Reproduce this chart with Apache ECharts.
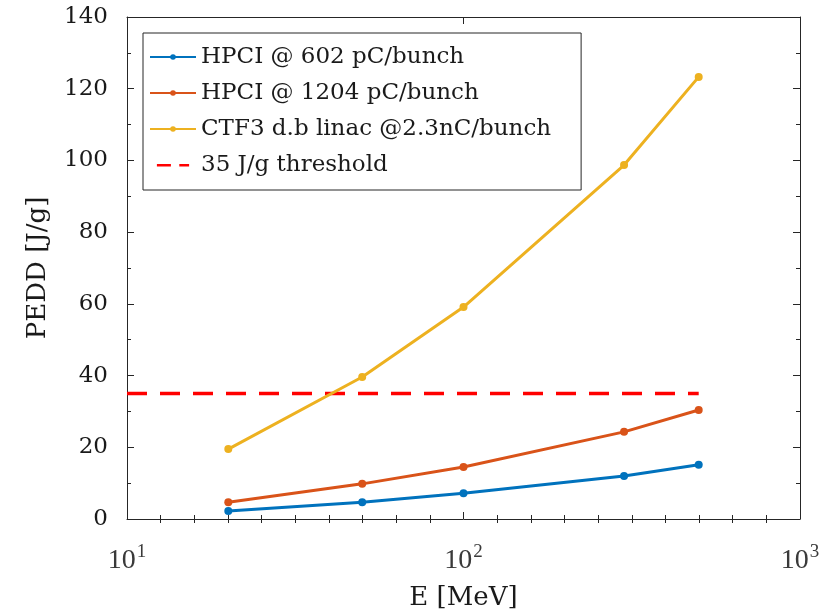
<!DOCTYPE html>
<html><head><meta charset="utf-8">
<script src="https://cdn.jsdelivr.net/npm/echarts@6/dist/echarts.min.js"></script>
<style>html,body{margin:0;padding:0;background:#fff}#c{width:826px;height:615px}</style>
</head><body><div id="c"></div>
<script>
var energies = [20, 50, 100, 300, 500];
var hpci602 = [2.2, 4.7, 7.2, 12.0, 15.1];
var hpci1204 = [4.7, 9.8, 14.5, 24.3, 30.4];
var ctf3 = [19.5, 39.6, 59.1, 98.7, 123.3];
var thresholdX = [10, 500];
var thresholdY = [35, 35];
var seriesNames = ['HPCI @ 602 pC/bunch', 'HPCI @ 1204 pC/bunch', 'CTF3 d.b linac @2.3nC/bunch', '35 J/g threshold'];
var yTicks = [0, 20, 40, 60, 80, 100, 120, 140];

function pairs(xs, ys){ return xs.map(function(x,i){ return [x, ys[i]]; }); }
var serif = 'DejaVu Serif';
var axisColor = '#262626';

function tick(){ return {show:true, inside:true, length:7, lineStyle:{color:axisColor, width:1}}; }
function minor(n){ return {show:true, splitNumber:n, length:4, lineStyle:{color:axisColor, width:1}}; }
function axLine(){ return {show:true, onZero:false, lineStyle:{color:axisColor, width:1}}; }
// exponent-space axis (1..3 = 10^1..10^3) used only for the evenly spaced minor ticks
function expAxis(pos){
  return {type:'value', min:1, max:3, interval:1, position:pos,
    axisLine:{show:false}, axisTick:{show:false, inside:true},
    minorTick:minor(10), splitLine:{show:false}, axisLabel:{show:false}};
}

var chart = echarts.init(document.getElementById('c'));
var lineSeries = function(name, data, color){
  return {name:name, type:'line', data:data, symbol:'circle', symbolSize:8,
    lineStyle:{color:color, width:3}, itemStyle:{color:color}, z:3};
};
chart.setOption({
  animation:false,
  grid:{left:127, right:26, top:17, bottom:96, containLabel:false, outerBoundsMode:'none'},
  legend:{
    orient:'vertical', left:143, top:33, padding:[11,30,12,6], itemGap:10,
    itemWidth:46, itemHeight:7,
    borderColor:axisColor, borderWidth:1, backgroundColor:'#fff',
    textStyle:{fontFamily:serif, fontSize:23, lineHeight:26, color:'#1a1a1a'},
    data:[seriesNames[0], seriesNames[1], seriesNames[2],
      {name:seriesNames[3], icon:'path://M0,0M0,10M0,3.5h20v3.5h-20zM32,3.5h14v3.5h-14z'}]
  },
  xAxis:[{
    type:'log', logBase:10, min:10, max:1000, position:'bottom',
    name:'E [MeV]', nameLocation:'middle', nameGap:66,
    nameTextStyle:{fontFamily:serif, fontSize:26, color:'#1a1a1a'},
    axisLine:axLine(), axisTick:tick(), minorTick:{show:false},
    splitLine:{show:false},
    axisLabel:{margin:24,
      formatter:function(v){ var e = Math.round(Math.log10(v)); return '{b|10}{s|' + e + '}'; },
      rich:{b:{fontFamily:'Liberation Serif', fontSize:28, color:'#3a3a3a'},
            s:{fontFamily:'Liberation Serif', fontSize:19, color:'#3a3a3a', verticalAlign:'top', padding:[0,0,16,1]}}
    }
  },{
    type:'log', logBase:10, min:10, max:1000, position:'top',
    axisLine:axLine(), axisTick:tick(), minorTick:{show:false},
    splitLine:{show:false}, axisLabel:{show:false}
  }, expAxis('bottom'), expAxis('top')],
  yAxis:[{
    type:'value', min:0, max:140, interval:20, position:'left',
    name:'PEDD [J/g]', nameLocation:'middle', nameGap:76, nameRotate:90,
    nameTextStyle:{fontFamily:serif, fontSize:26, color:'#1a1a1a'},
    axisLine:axLine(), axisTick:tick(), minorTick:minor(2),
    splitLine:{show:false},
    axisLabel:{margin:19, fontFamily:serif, fontSize:23, color:'#1a1a1a',
      formatter:function(v){ return yTicks.indexOf(v) >= 0 ? String(v) : ''; }}
  },{
    type:'value', min:0, max:140, interval:20, position:'right',
    axisLine:axLine(), axisTick:tick(), minorTick:minor(2),
    splitLine:{show:false}, axisLabel:{show:false}
  }],
  series:[
    lineSeries(seriesNames[0], pairs(energies, hpci602), '#0072BD'),
    lineSeries(seriesNames[1], pairs(energies, hpci1204), '#D95319'),
    lineSeries(seriesNames[2], pairs(energies, ctf3), '#EDB120'),
    {name:seriesNames[3], type:'line', data:pairs(thresholdX, thresholdY), symbol:'none',
     lineStyle:{color:'#FF0000', width:3.5, type:[20,13]}, itemStyle:{color:'#FF0000'}, z:2}
  ]
});
</script></body></html>
